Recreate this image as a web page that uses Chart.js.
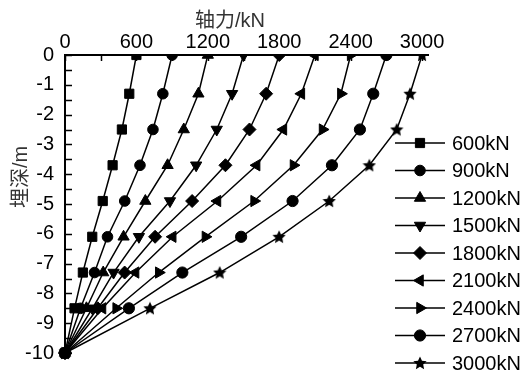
<!DOCTYPE html>
<html>
<head>
<meta charset="utf-8">
<script src="https://cdn.jsdelivr.net/npm/chart.js@4/dist/chart.umd.min.js"></script>
<style>
  html, body { margin: 0; padding: 0; background: #fff; }
  #wrap { width: 529px; height: 376px; }
</style>
</head>
<body>
<div id="wrap"><canvas id="c" width="529" height="376"></canvas></div>
<script>
// Pile depth (m) of each gauge level
const depths = [0, -1.3, -2.5, -3.7, -4.9, -6.1, -7.3, -8.5, -10];

// Axial force (kN) along the pile for each top load
const load600  = [600,  540,  478,  400,  317,  229, 150,  80, 0];
const load900  = [900,  822,  739,  630,  502,  357, 248, 130, 0];
const load1200 = [1200, 1121, 998,  862,  675,  492, 321, 180, 0];
const load1500 = [1500, 1404, 1275, 1102, 882,  621, 408, 230, 0];
const load1800 = [1800, 1690, 1550, 1348, 1068, 757, 501, 275, 0];
const load2100 = [2100, 1986, 1835, 1610, 1281, 905, 593, 315, 0];
const load2400 = [2400, 2318, 2164, 1920, 1589, 1180, 788, 430, 0];
const load2700 = [2700, 2590, 2478, 2243, 1912, 1480, 986, 537, 0];
const load3000 = [3000, 2899, 2787, 2557, 2220, 1799, 1300, 714, 0];

const seriesNames = ['600kN', '900kN', '1200kN', '1500kN', '1800kN', '2100kN', '2400kN', '2700kN', '3000kN'];
const seriesValues = [load600, load900, load1200, load1500, load1800, load2100, load2400, load2700, load3000];

const xTickValues = [0, 300, 600, 900, 1200, 1500, 1800, 2100, 2400, 2700, 3000];
const yTickValues = [0, -0.5, -1, -1.5, -2, -2.5, -3, -3.5, -4, -4.5, -5, -5.5, -6, -6.5, -7, -7.5, -8, -8.5, -9, -9.5, -10];

const FONT = '"Liberation Sans", Arial, "Noto Sans CJK SC", sans-serif';

// filled five-point star used as a marker
function makeStar(size) {
  const cv = document.createElement('canvas');
  cv.width = size; cv.height = size;
  const g = cv.getContext('2d');
  const cx = size / 2, cy = size / 2 + 0.5, ro = size / 2, ri = ro * 0.48;
  g.beginPath();
  for (let k = 0; k < 10; k++) {
    const r = k % 2 === 0 ? ro : ri;
    const a = -Math.PI / 2 + k * Math.PI / 5;
    const px = cx + r * Math.cos(a), py = cy + r * Math.sin(a);
    if (k === 0) g.moveTo(px, py); else g.lineTo(px, py);
  }
  g.closePath();
  g.fillStyle = '#000';
  g.fill();
  return cv;
}
const star = makeStar(14);

const markers = [
  { pointStyle: 'rect',     rotation: 0,   radius: 6.5 },
  { pointStyle: 'circle',   rotation: 0,   radius: 5.3 },
  { pointStyle: 'triangle', rotation: 0,   radius: 6.5 },
  { pointStyle: 'triangle', rotation: 180, radius: 6.5 },
  { pointStyle: 'rectRot',  rotation: 0,   radius: 6.5 },
  { pointStyle: 'triangle', rotation: 270, radius: 6.5 },
  { pointStyle: 'triangle', rotation: 90,  radius: 6.5 },
  { pointStyle: 'circle',   rotation: 0,   radius: 5.6 },
  { pointStyle: star,       rotation: 0,   radius: 7 }
];

const datasets = seriesValues.map((vals, i) => ({
  label: seriesNames[i],
  data: vals.map((v, j) => ({ x: v, y: depths[j] })),
  borderColor: '#000',
  borderWidth: 1.5,
  backgroundColor: '#000',
  pointBackgroundColor: '#000',
  pointBorderColor: '#000',
  pointBorderWidth: 1,
  pointStyle: markers[i].pointStyle,
  pointRotation: markers[i].rotation,
  pointRadius: markers[i].radius,
  tension: 0,
  clip: { left: 10, top: 0, right: 10, bottom: 10 }
}));

// inward tick marks on the top and left axes
const innerTicks = {
  id: 'innerTicks',
  afterDraw(chart) {
    const { ctx, chartArea: a, scales: { x, y } } = chart;
    ctx.save();
    ctx.strokeStyle = '#000';
    ctx.lineWidth = 1.5;
    ctx.beginPath();
    xTickValues.forEach(v => {
      const px = Math.round(x.getPixelForValue(v)) + 0.5;
      ctx.moveTo(px, a.top); ctx.lineTo(px, a.top + 6);
    });
    yTickValues.forEach(v => {
      const py = Math.round(y.getPixelForValue(v)) + 0.5;
      ctx.moveTo(a.left, py); ctx.lineTo(a.left + 7, py);
    });
    ctx.stroke();
    ctx.restore();
  }
};

// axis titles
const axisTitles = {
  id: 'axisTitles',
  afterDraw(chart) {
    const { ctx, chartArea: a } = chart;
    ctx.save();
    ctx.fillStyle = '#333';
    ctx.font = '20px ' + FONT;
    ctx.textAlign = 'center';
    ctx.textBaseline = 'middle';
    ctx.fillText('轴力/kN', a.left + 165, 21);
    ctx.translate(21, (a.top + a.bottom) / 2 - 27);
    ctx.rotate(-Math.PI / 2);
    ctx.fillText('埋深/m', 0, 0);
    ctx.restore();
  }
};

// legend: short line with the series marker, then the name
const sideLegend = {
  id: 'sideLegend',
  afterDraw(chart) {
    const { ctx } = chart;
    const x0 = 395, x1 = 445, top = 143, step = 27.5;
    ctx.save();
    chart.data.datasets.forEach((ds, i) => {
      const yy = top + i * step;
      ctx.strokeStyle = '#000';
      ctx.lineWidth = 1.5;
      ctx.beginPath();
      ctx.moveTo(x0, yy); ctx.lineTo(x1, yy);
      ctx.stroke();
      ctx.fillStyle = '#000';
      ctx.strokeStyle = '#000';
      ctx.lineWidth = 1;
      Chart.helpers.drawPoint(ctx, {
        pointStyle: ds.pointStyle,
        rotation: ds.pointRotation,
        radius: ds.pointRadius,
        borderWidth: 1
      }, (x0 + x1) / 2, yy);
      ctx.fillStyle = '#000';
      ctx.font = '20px ' + FONT;
      ctx.textAlign = 'left';
      ctx.textBaseline = 'middle';
      ctx.fillText(ds.label, 452, yy + 1);
    });
    ctx.restore();
  }
};

new Chart(document.getElementById('c'), {
  type: 'line',
  data: { datasets },
  options: {
    responsive: false,
    devicePixelRatio: 1,
    animation: false,
    layout: { padding: { top: 0, left: 0, right: 101, bottom: 7 } },
    plugins: { legend: { display: false }, tooltip: { enabled: false } },
    scales: {
      x: {
        type: 'linear',
        position: 'top',
        min: 0,
        max: 3050,
        afterBuildTicks: s => { s.ticks = xTickValues.map(v => ({ value: v })); },
        afterFit: s => { s.height = 55; },
        grid: { display: false, drawTicks: false },
        border: { display: true, color: '#000', width: 2 },
        ticks: {
          autoSkip: false,
          maxRotation: 0,
          padding: 1,
          color: '#000',
          font: { size: 20, family: FONT },
          callback: v => (v % 600 === 0 ? String(v) : '')
        }
      },
      y: {
        type: 'linear',
        min: -10,
        max: 0,
        afterBuildTicks: s => { s.ticks = yTickValues.map(v => ({ value: v })); },
        afterFit: s => { s.width = 65; },
        grid: { display: false, drawTicks: false },
        border: { display: true, color: '#000', width: 2 },
        ticks: {
          autoSkip: false,
          padding: 11,
          color: '#000',
          font: { size: 20, family: FONT },
          callback: v => (Number.isInteger(v) ? String(v) : '')
        }
      }
    }
  },
  plugins: [innerTicks, axisTitles, sideLegend]
});
</script>
</body>
</html>
